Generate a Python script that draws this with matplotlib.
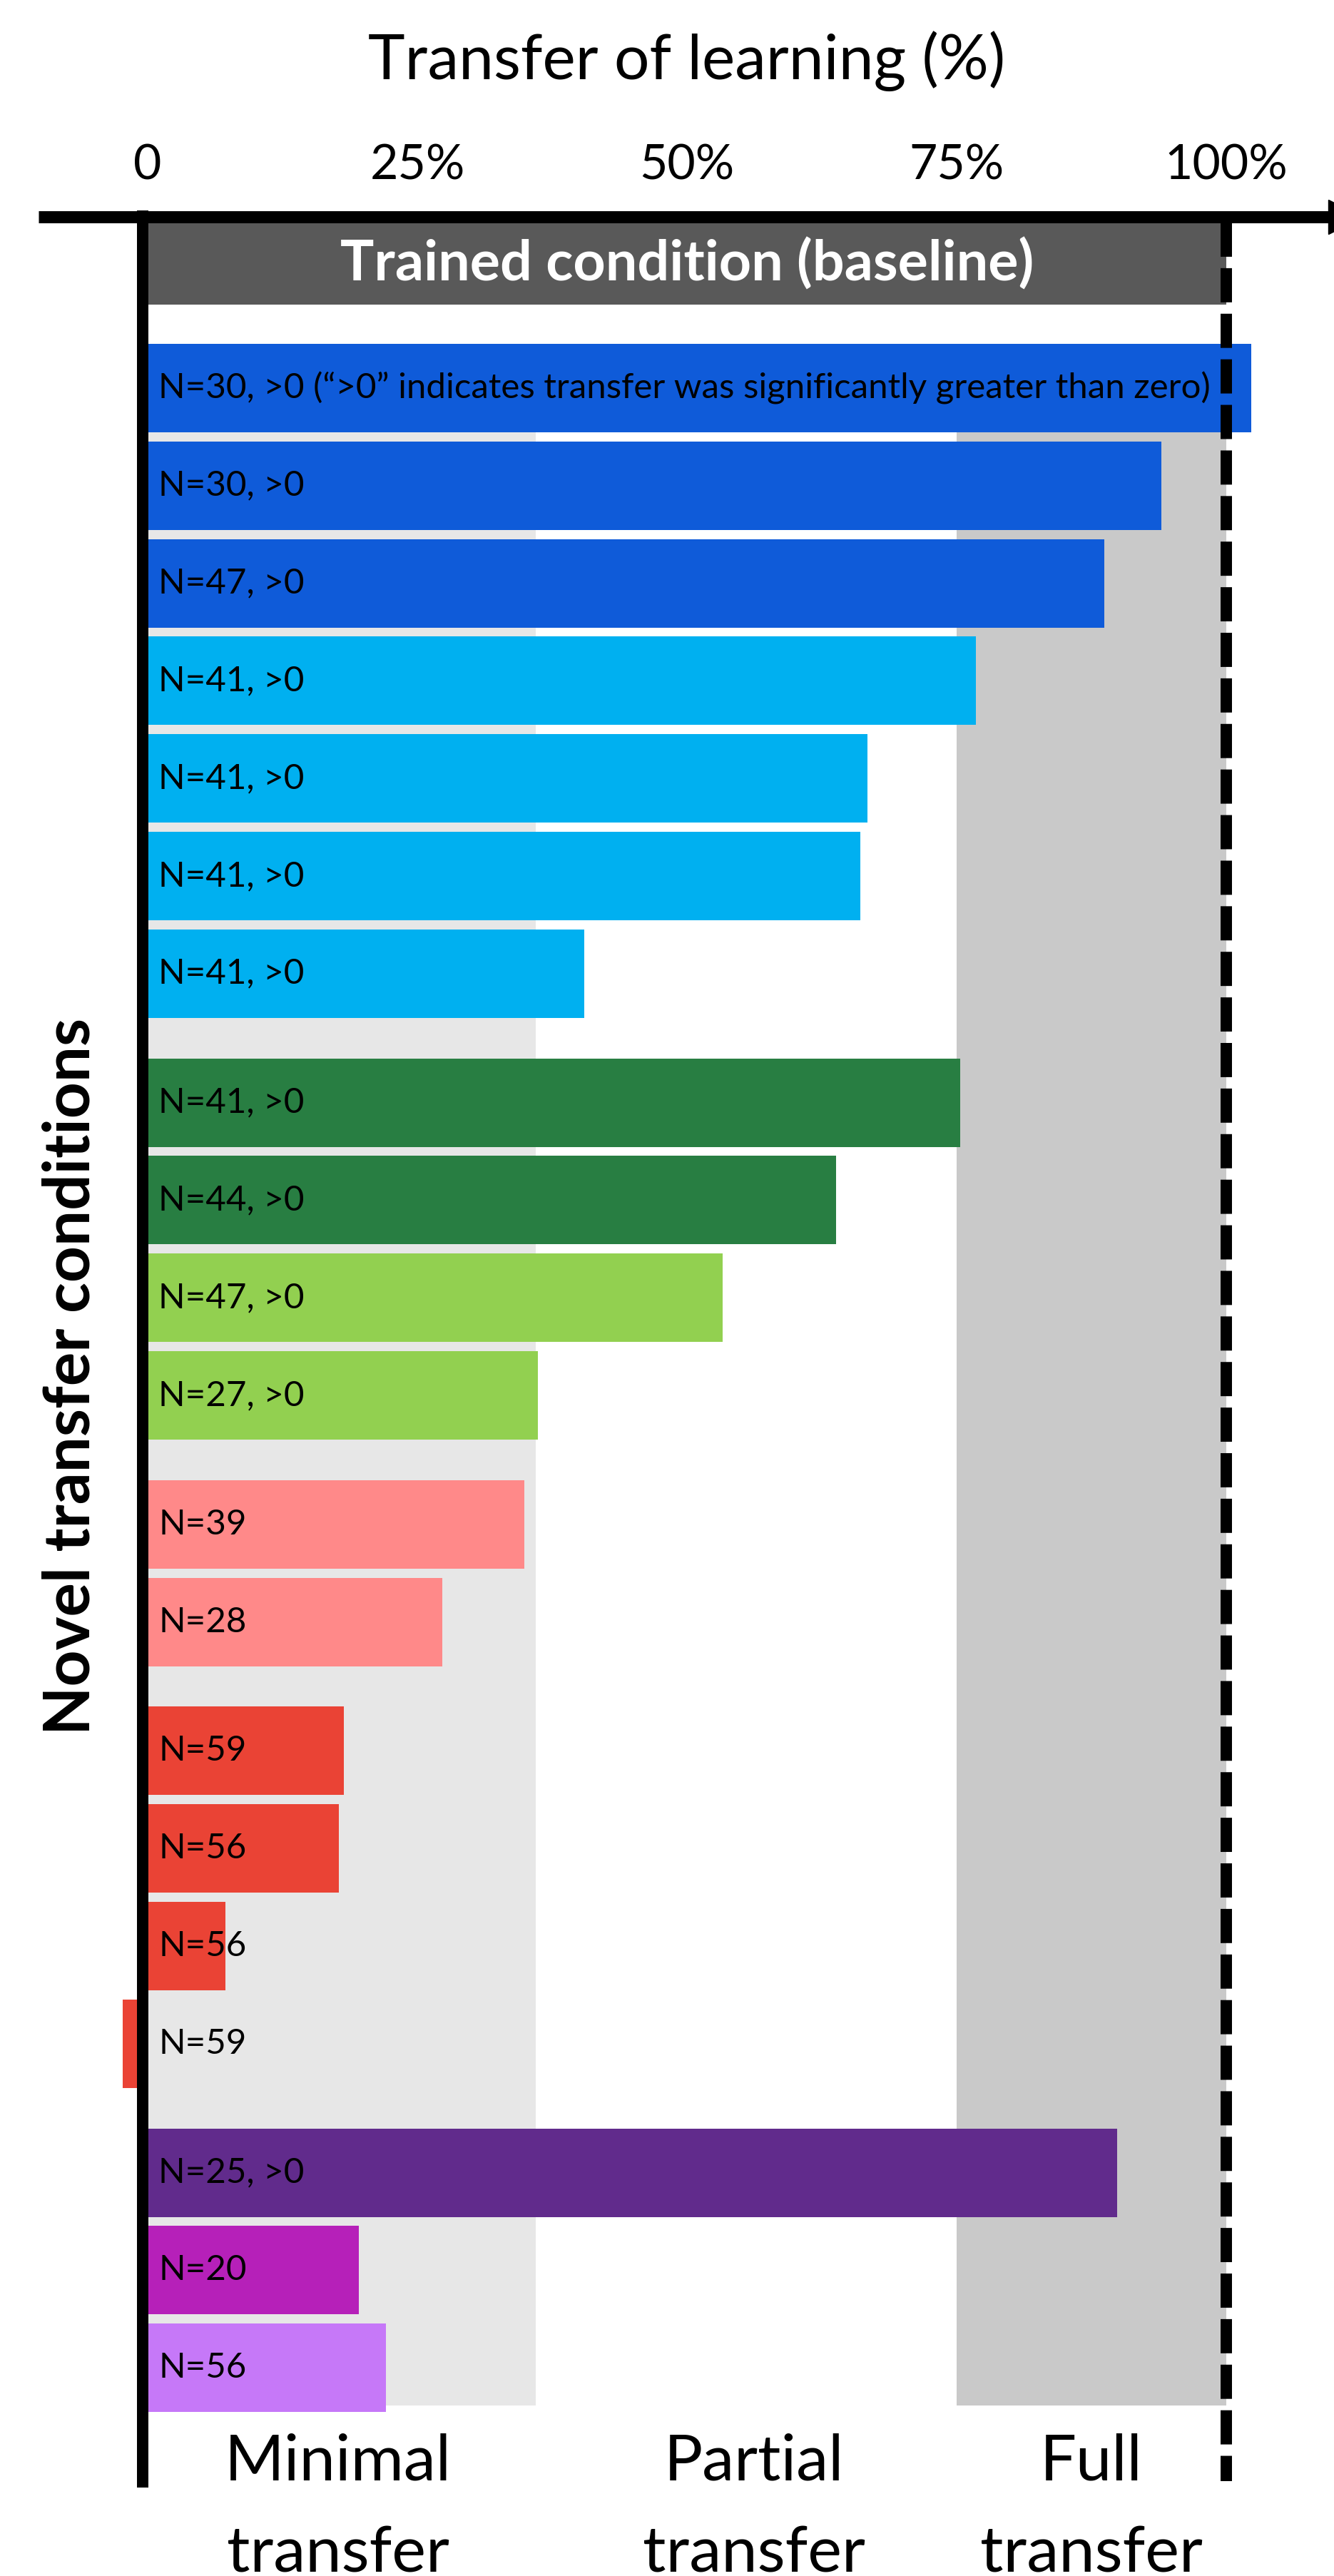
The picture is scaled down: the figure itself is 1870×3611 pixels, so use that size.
import numpy as np
import matplotlib
matplotlib.use("Agg")
import matplotlib.pyplot as plt

plt.rcParams['font.family'] = ['Lato', 'DejaVu Sans']

# data (transfer of learning, % of trained condition)
labels = [
    "N=30, >0 (\u201c>0\u201d indicates transfer was significantly greater than zero)",
    "N=30, >0", "N=47, >0", "N=41, >0", "N=41, >0", "N=41, >0", "N=41, >0",
    "N=41, >0", "N=44, >0", "N=47, >0", "N=27, >0",
    "N=39", "N=28",
    "N=59", "N=56", "N=56", "N=59",
    "N=25, >0", "N=20", "N=56",
]
values = [102.3, 94.0, 88.7, 76.8, 66.7, 66.1, 40.5,
          75.3, 63.8, 53.3, 36.2,
          34.9, 27.3,
          18.2, 17.7, 7.2, -2.3,
          89.9, 19.6, 22.1]
groups = [0] * 7 + [1] * 4 + [2] * 2 + [3] * 4 + [4] * 3
colors = ["#0f5bd9"] * 3 + ["#00b0f0"] * 4 + ["#287e42"] * 2 + ["#92d050"] * 2 \
    + ["#ff8989"] * 2 + ["#ea4335"] * 4 + ["#612b8c", "#b620b9", "#c678f8"]

tick_vals = [0, 25, 50, 75, 100]
tick_labels = ["0", "25%", "50%", "75%", "100%"]
zone_labels = ["Minimal\ntransfer", "Partial\ntransfer", "Full\ntransfer"]
zone_edges = [0, 36.0, 75, 100]

# layout (pixels)
W, H = 1870, 3611
x0_px, px_per_pct = 207, 15.12
row_top, row_step, group_gap, bar_h = 482, 136.8, 44, 124


def px(x):
    return (x - x0_px) / px_per_pct


fig = plt.figure(figsize=(W / 100, H / 100), dpi=100)
ax = fig.add_axes([0, 0, 1, 1])
ax.set_xlim(px(0), px(W))
ax.set_ylim(H, 0)
ax.axis('off')

# background zones
ax.fill_betweenx([row_top, 3372], zone_edges[0], zone_edges[1], color="#e7e7e7", lw=0, zorder=0)
ax.fill_betweenx([row_top, 3372], zone_edges[2], zone_edges[3], color="#c9c9c9", lw=0, zorder=0)

# bars
idx = np.arange(len(values))
centers = row_top + idx * row_step + np.array(groups) * group_gap + bar_h / 2
ax.barh(centers, values, height=bar_h, color=colors, zorder=2)
for c, lab in zip(centers, labels):
    ax.text(1.0, c, lab, fontsize=35.5, va='center', ha='left', zorder=5)

# baseline bar
ax.barh(369.5, 100, height=115, color="#595959", zorder=2)
ax.text(50, 370, "Trained condition (baseline)", color="white", fontsize=57,
        fontweight='bold', ha='center', va='center', zorder=5)

# 100% dashed line
ax.plot([100, 100], [312, 3478], color='k', lw=11.5, ls=(0, (3, 1)), zorder=4,
        solid_capstyle='butt', dash_capstyle='butt')

# axes lines
ax.plot([px(54), px(1870)], [303.5, 303.5], color='k', lw=12.2, zorder=6,
        solid_capstyle='butt')
ax.plot([px(1886)], [303.5], marker='>', color='k', markersize=34.6, zorder=6)
ax.plot([px(199.5), px(199.5)], [295, 3487], color='k', lw=11.5, zorder=6,
        solid_capstyle='butt')

# ticks and titles
for v, t in zip(tick_vals, tick_labels):
    ax.text(v, 232, t, fontsize=49, ha='center', va='center')
ax.text(50, 86, "Transfer of learning (%)", fontsize=63, ha='center', va='center')
ax.text(px(100), 1929, "Novel transfer conditions", fontsize=64, fontweight='bold',
        rotation=90, ha='center', va='center')

zone_centers = [px(474), px(1057), px(1530)]
for xc, t in zip(zone_centers, zone_labels):
    ax.text(xc, 3605, t, fontsize=65, ha='center', va='baseline', linespacing=1.7)

fig.savefig("out.png", dpi=100)
